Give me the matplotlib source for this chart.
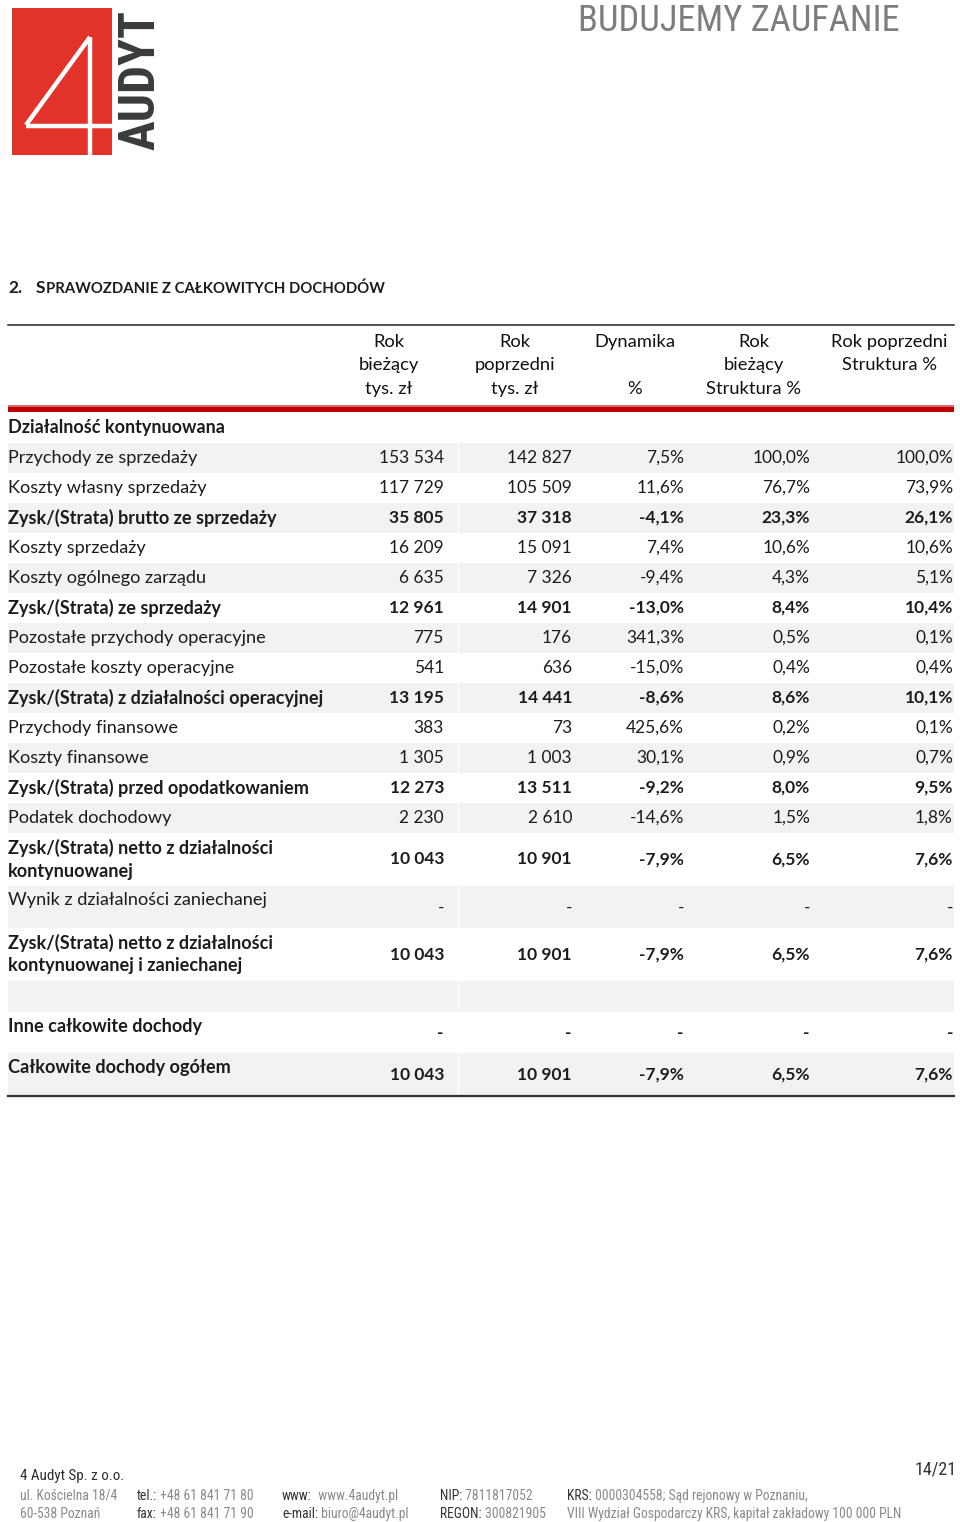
import matplotlib
matplotlib.use("Agg")
import matplotlib.pyplot as plt
from matplotlib.patches import Rectangle
from matplotlib import font_manager
import math

# ---------------- data ----------------
row_labels = [
    "Przychody ze sprzedaży",
    "Koszty własny sprzedaży",
    "Zysk/(Strata) brutto ze sprzedaży",
    "Koszty sprzedaży",
    "Koszty ogólnego zarządu",
    "Zysk/(Strata) ze sprzedaży",
    "Pozostałe przychody operacyjne",
    "Pozostałe koszty operacyjne",
    "Zysk/(Strata) z działalności operacyjnej",
    "Przychody finansowe",
    "Koszty finansowe",
    "Zysk/(Strata) przed opodatkowaniem",
    "Podatek dochodowy",
    "Zysk/(Strata) netto z działalności\nkontynuowanej",
    "Wynik z działalności zaniechanej",
    "Zysk/(Strata) netto z działalności\nkontynuowanej i zaniechanej",
    "",
    "Inne całkowite dochody",
    "Całkowite dochody ogółem",
]
row_bold = [0, 0, 1, 0, 0, 1, 0, 0, 1, 0, 0, 1, 0, 1, 0, 1, 0, 1, 1]
row_blank = [0] * 16 + [1, 0, 0]

nan = float("nan")
cur_year = [153534, 117729, 35805, 16209, 6635, 12961, 775, 541, 13195, 383,
            1305, 12273, 2230, 10043, nan, 10043, nan, nan, 10043]
prev_year = [142827, 105509, 37318, 15091, 7326, 14901, 176, 636, 14441, 73,
             1003, 13511, 2610, 10901, nan, 10901, nan, nan, 10901]
dynamics = [7.5, 11.6, -4.1, 7.4, -9.4, -13.0, 341.3, -15.0, -8.6, 425.6,
            30.1, -9.2, -14.6, -7.9, nan, -7.9, nan, nan, -7.9]
struct_cur = [100.0, 76.7, 23.3, 10.6, 4.3, 8.4, 0.5, 0.4, 8.6, 0.2,
              0.9, 8.0, 1.5, 6.5, nan, 6.5, nan, nan, 6.5]
struct_prev = [100.0, 73.9, 26.1, 10.6, 5.1, 10.4, 0.1, 0.4, 10.1, 0.1,
               0.7, 9.5, 1.8, 7.6, nan, 7.6, nan, nan, 7.6]

col_headers = [
    ["Rok", "bieżący", "tys. zł"],
    ["Rok", "poprzedni", "tys. zł"],
    ["Dynamika", "", "%"],
    ["Rok", "bieżący", "Struktura %"],
    ["Rok poprzedni", "Struktura %", ""],
]
section_label = "Działalność kontynuowana"
title_num = "2."
title_first = "S"
title_rest = "PRAWOZDANIE Z CAŁKOWITYCH DOCHODÓW"
slogan = "BUDUJEMY ZAUFANIE"
logo_text = "AUDYT"
page_label = "14/21"
company = "4 Audyt Sp. z o.o."
footer_cols = [
    [("", "ul. Kościelna 18/4"), ("", "60-538 Poznań")],
    [("tel.:", " +48 61 841 71 80"), ("fax:", " +48 61 841 71 90")],
    [("www:", "  www.4audyt.pl"), ("e-mail:", " biuro@4audyt.pl")],
    [("NIP:", " 7811817052"), ("REGON:", " 300821905")],
    [("KRS:", " 0000304558; Sąd rejonowy w Poznaniu,"),
     ("", "VIII Wydział Gospodarczy KRS, kapitał zakładowy 100 000 PLN")],
]

# ---------------- helpers ----------------
def fmt_int(v):
    if isinstance(v, float) and math.isnan(v):
        return "-"
    return f"{int(v):,}".replace(",", " ")


def fmt_pct(v):
    if isinstance(v, float) and math.isnan(v):
        return "-"
    return f"{v:.1f}".replace(".", ",") + "%"


available = {f.name for f in font_manager.fontManager.ttflist}
narrow_pref = ["Roboto Condensed", "Open Sans Condensed", "Liberation Sans Narrow",
               "DejaVu Sans Condensed", "Roboto"]
NARROW = [f for f in narrow_pref if f in available] + ["DejaVu Sans"]
BODY = ["Lato", "DejaVu Sans"]
TXT = "#1c1c1c"

# ---------------- figure ----------------
W, H = 960, 1522
fig = plt.figure(figsize=(W / 100, H / 100), dpi=100)
ax = fig.add_axes([0, 0, 1, 1])
ax.set_xlim(0, W)
ax.set_ylim(H, 0)
ax.axis("off")
renderer = fig.canvas.get_renderer()


def extent_px(t):
    return t.get_window_extent(renderer=renderer)


def fit_width(t, target, vertical=False):
    bb = extent_px(t)
    cur = bb.height if vertical else bb.width
    t.set_fontsize(t.get_fontsize() * target / cur)


def x_after(t):
    bb = extent_px(t)
    return ax.transData.inverted().transform((bb.x1, bb.y0))[0]


# ---- logo ----
ax.add_patch(Rectangle((11.5, 7.5), 100, 147, facecolor="#E2332A", edgecolor="none"))
ax.plot([90, 90], [37, 154.5], color="white", lw=3.2, solid_capstyle="butt")
ax.plot([90, 26], [37, 125], color="white", lw=3.2, solid_capstyle="butt")
ax.plot([26, 111.5], [125.5, 125.5], color="white", lw=3.2, solid_capstyle="butt")
lt = ax.text(154, 80, logo_text, rotation=90, rotation_mode="anchor", ha="center",
             va="baseline", fontsize=34, fontweight="bold", family=NARROW,
             color="#3b3b3b")
fit_width(lt, 140, vertical=True)

# ---- slogan ----
st = ax.text(900, 21, slogan, ha="right", va="center", fontsize=26, family=NARROW,
             color="#7d7d7d")
fit_width(st, 322)

# ---- title ----
ax.text(8, 293, title_num, ha="left", va="baseline", fontsize=12.5,
        family=BODY, fontweight="bold", color=TXT)
t_s = ax.text(36, 293, title_first, ha="left", va="baseline", fontsize=12.5,
              family=BODY, fontweight="bold", color=TXT)
ax.text(x_after(t_s) + 0.8, 293, title_rest, ha="left", va="baseline",
        fontsize=10.7, family=BODY, fontweight="bold", color=TXT)

# ---- table rules ----
X0, X1 = 8, 954
ax.plot([X0, X1], [325, 325], color="#222222", lw=1.1)
ax.add_patch(Rectangle((X0, 404.5), X1 - X0, 2.5, facecolor="#DC6A6A", edgecolor="none"))
ax.add_patch(Rectangle((X0, 407), X1 - X0, 5, facecolor="#BF0000", edgecolor="none"))

# ---- header ----
col_right = [444, 572, 684, 810, 953]
col_center = [389, 515, 635, 754, 889]
head_y = [342, 365, 389]
for cx, lines in zip(col_center, col_headers):
    for y, t in zip(head_y, lines):
        if t:
            ax.text(cx, y, t, ha="center", va="center", fontsize=13.2,
                    family=BODY, color="#111111")

ax.text(8, 428, section_label, ha="left", va="center", fontsize=13,
        family=BODY, fontweight="bold", color=TXT)

# ---- rows ----
edges = [443 + 30 * i for i in range(14)] + [886, 928, 981, 1012, 1053, 1095]
label_dy = [0] * 14 + [-7, 0, 0, -6, -6]
value_dy = [0] * 14 + [1, 0, 0, 0, 1]
columns = [
    [fmt_int(v) for v in cur_year],
    [fmt_int(v) for v in prev_year],
    [fmt_pct(v) for v in dynamics],
    [fmt_pct(v) for v in struct_cur],
    [fmt_pct(v) for v in struct_prev],
]

for i, label in enumerate(row_labels):
    top, bot = edges[i], edges[i + 1]
    cy = (top + bot) / 2
    if i % 2 == 0:
        ax.add_patch(Rectangle((X0, top), X1 - X0, bot - top,
                               facecolor="#F2F2F2", edgecolor="none", zorder=0))
        ax.plot([458, 458], [top, bot], color="white", lw=0.7, zorder=0.5)
    if row_blank[i]:
        continue
    weight = "bold" if row_bold[i] else "normal"
    lines = label.split("\n")
    if len(lines) == 1:
        ax.text(8, cy + label_dy[i], lines[0], ha="left", va="center",
                fontsize=13.1, family=BODY, fontweight=weight, color=TXT)
    else:
        for k, ln in enumerate(lines):
            ax.text(8, cy - 11.5 + 23 * k, ln, ha="left", va="center",
                    fontsize=13.1, family=BODY, fontweight=weight, color=TXT)
    for xr, col in zip(col_right, columns):
        ax.text(xr, cy + value_dy[i], col[i], ha="right", va="center",
                fontsize=12.5, family=BODY, fontweight=weight, color=TXT)

ax.plot([X0, X1], [1096, 1096], color="#333333", lw=1.6)

# ---- footer ----
pg = ax.text(957, 1469, page_label, ha="right", va="center", fontsize=11.5,
             family=NARROW, color="#333333")
fit_width(pg, 42)
ct = ax.text(20, 1476, company, ha="left", va="center", fontsize=10,
             family=NARROW, color="#2e2e2e")
fit_width(ct, 103)
foot_x = [20, 137, 282, 440, 567]
foot_y = [1496, 1514]
fs_foot = 9.8
for fx, entries in zip(foot_x, footer_cols):
    for fy, (lab, val) in zip(foot_y, entries):
        t1 = ax.text(fx, fy, lab, ha="left", va="center", fontsize=fs_foot,
                     family=NARROW, color="#333333")
        x_end = x_after(t1) if lab else fx
        ax.text(x_end, fy, val, ha="left", va="center", fontsize=fs_foot,
                family=NARROW, color="#8a8a8a")

fig.savefig("out.png", dpi=100)
